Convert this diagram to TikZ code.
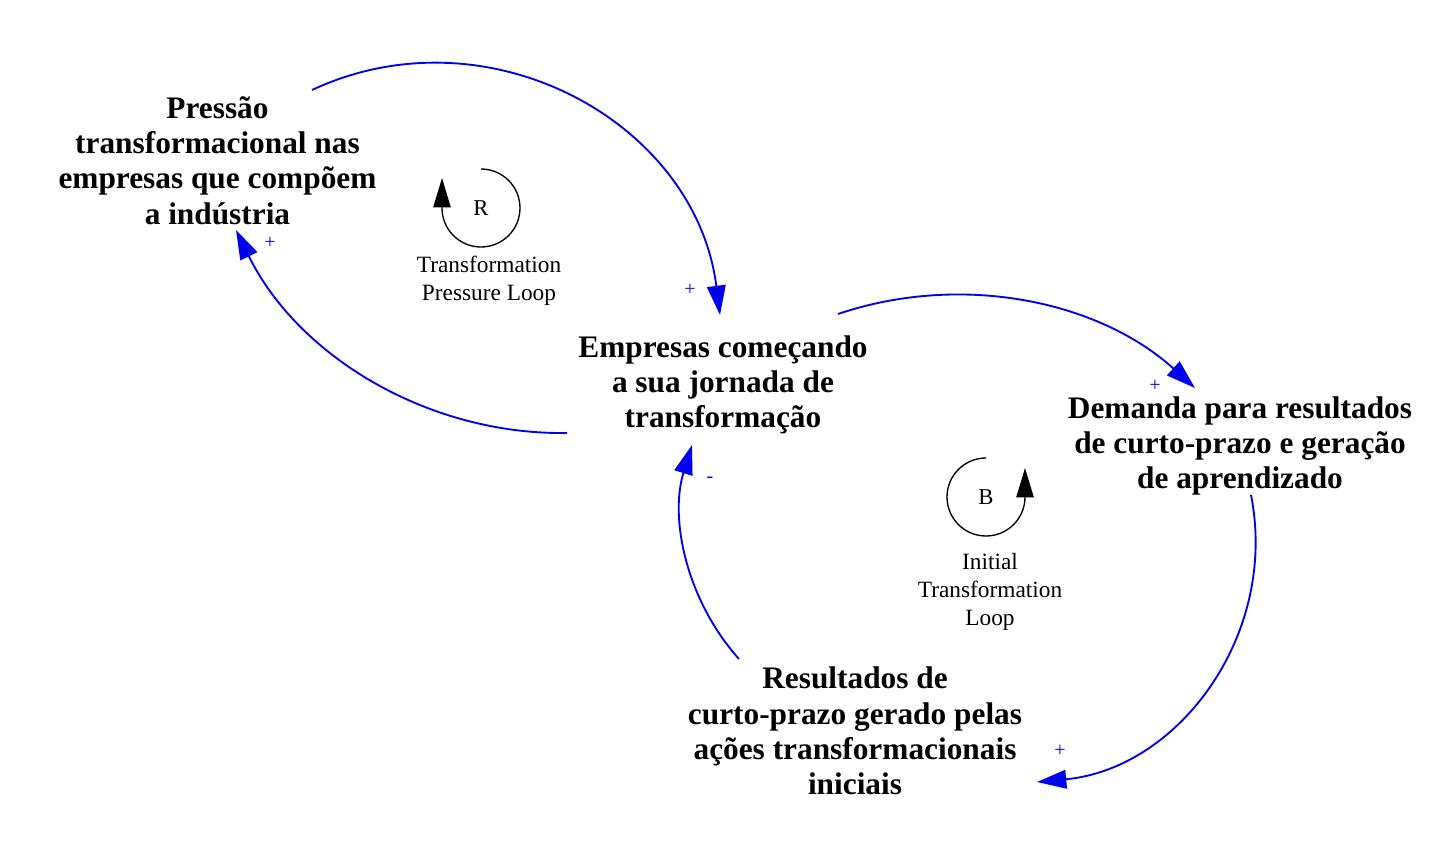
\documentclass[tikz,border=0pt]{standalone}
\usepackage{fontspec}
\setmainfont{Liberation Serif}
\usetikzlibrary{arrows.meta}
\definecolor{linkblue}{RGB}{0,0,238}
\begin{document}
\begin{tikzpicture}[x=0.75pt,y=0.75pt,
  var/.style={font=\fontsize{23.5}{26.5}\selectfont\bfseries, align=center, inner sep=0pt},
  link/.style={draw=linkblue, line width=1.4pt, -{Triangle[length=22pt,width=14pt]}, fill=none},
  pol/.style={font=\fontsize{15}{15}\selectfont, text=linkblue, inner sep=0pt},
  looplbl/.style={font=\fontsize{17.5}{21}\selectfont, align=center, inner sep=0pt},
  loopsym/.style={font=\fontsize{17}{17}\selectfont, inner sep=0pt},
  looparc/.style={draw=black, line width=1pt, -{Triangle[length=22pt,width=13pt]}}
]
\useasboundingbox (0,0) rectangle (1456,-848);

% variables
\node[var] (P) at (217.5,-160.5) {Pressão\\transformacional nas\\empresas que compõem\\a indústria};
\node[var] (E) at (723,-385) {Empresas começando\\a sua jornada de\\transformação};
\node[var] (D) at (1240,-446) {Demanda para resultados\\de curto-prazo e geração\\de aprendizado};
\node[var] (Rs) at (855,-731) {Resultados de\\curto-prazo gerado pelas\\ações transformacionais\\iniciais};

% connector end points
\coordinate (PtoE1) at (312,-90);
\coordinate (PtoE2) at (720,-315);
\coordinate (EtoD1) at (838,-314);
\coordinate (EtoD2) at (1195,-388);
\coordinate (DtoR1) at (1251,-495);
\coordinate (DtoR2) at (1037,-782);
\coordinate (RtoE1) at (739,-659);
\coordinate (RtoE2) at (692,-445);
\coordinate (EtoP1) at (567,-433);
\coordinate (EtoP2) at (236,-230);

% links
\draw[link] (PtoE1) to[bend left=53.9, looseness=1.07] (PtoE2);
\draw[link] (EtoD1) to[bend left=30.4, looseness=0.914] (EtoD2);
\draw[link] (DtoR1) to[bend left=47.9, looseness=1.019] (DtoR2);
\draw[link] (RtoE1) to[bend left=29.5, looseness=0.911] (RtoE2);
\draw[link] (EtoP1) to[bend left=32.35, looseness=0.923] (EtoP2);

% polarities
\node[pol] (s1) at (690,-290) {+};
\node[pol] (s2) at (1155,-386) {+};
\node[pol] (s3) at (1060,-751) {+};
\node[pol] (s4) at (710,-480) {-};
\node[pol] (s5) at (270,-243) {+};

% loop R
\node[loopsym] (Rl) at (481,-208) {R};
\draw[looparc] (481,-169) arc[start angle=90, end angle=-180, radius=39] -- ++(0,30);
\node[looplbl] (Rlbl) at (489,-281) {Transformation\\Pressure Loop};

% loop B
\node[loopsym] (Bl) at (986,-497) {B};
\draw[looparc] (986,-458) arc[start angle=90, end angle=360, radius=39] -- ++(0,29);
\node[looplbl] (Blbl) at (990,-592) {Initial\\Transformation\\Loop};
\end{tikzpicture}
\end{document}
